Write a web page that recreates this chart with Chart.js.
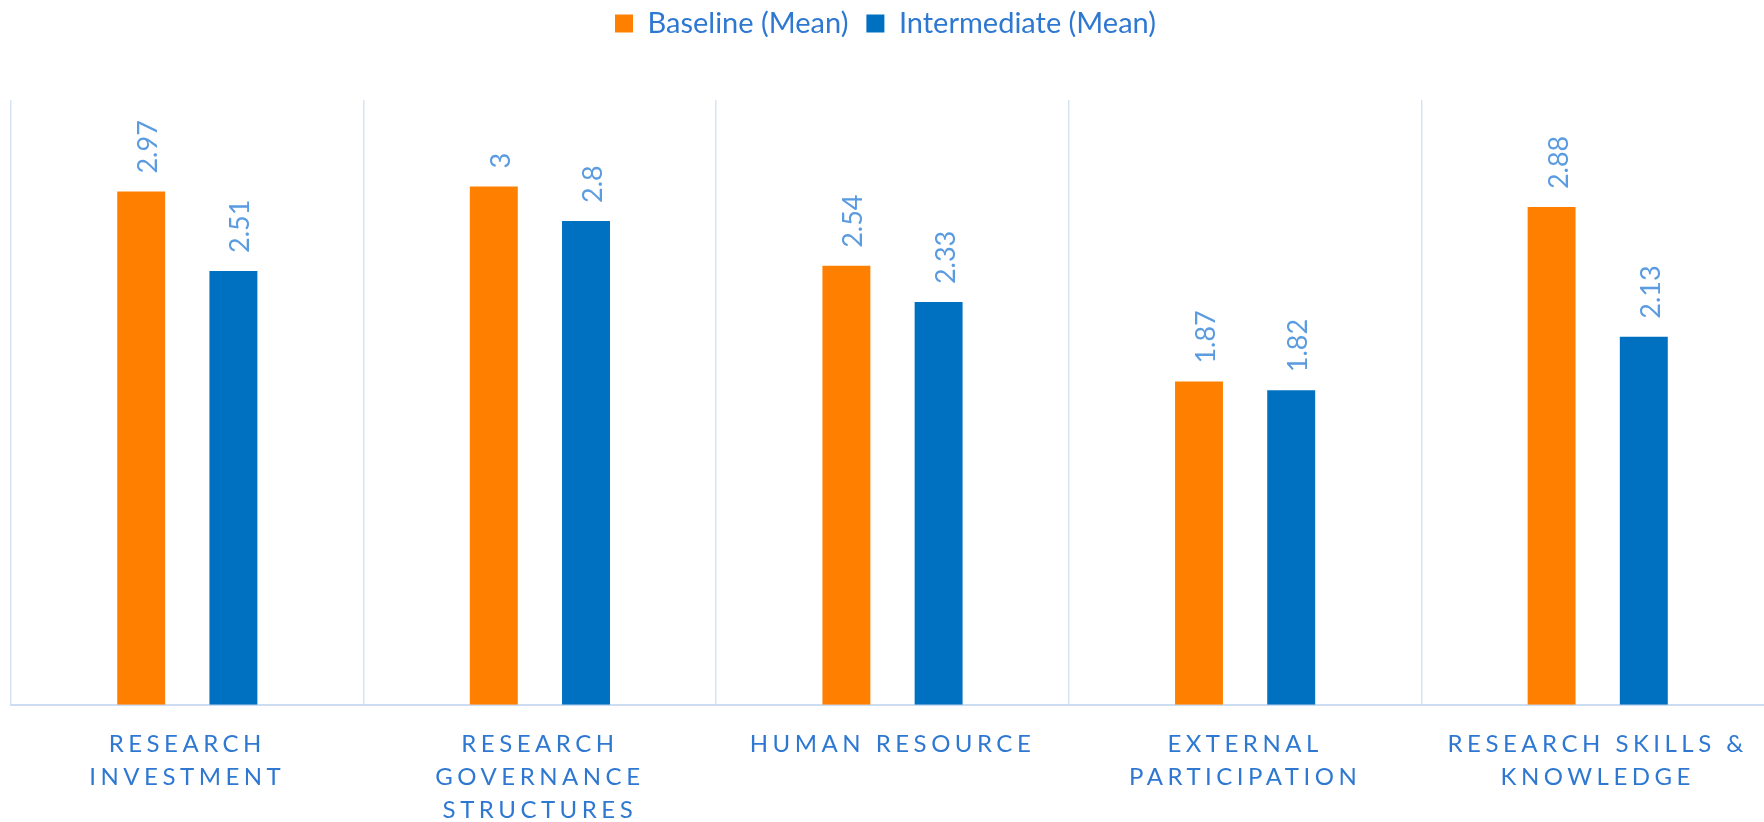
<!DOCTYPE html>
<html>
<head>
<meta charset="utf-8">
<script src="https://cdn.jsdelivr.net/npm/chart.js@4"></script>
<style>
  body { margin: 0; background: #fff; overflow: hidden; }
  #wrap { width: 1774px; height: 850px; position: relative; }
</style>
</head>
<body>
<div id="wrap"><canvas id="grafica"></canvas></div>
<script>
const categorias = [
  ['RESEARCH', 'INVESTMENT'],
  ['RESEARCH', 'GOVERNANCE', 'STRUCTURES'],
  'HUMAN RESOURCE',
  ['EXTERNAL', 'PARTICIPATION'],
  ['RESEARCH SKILLS &', 'KNOWLEDGE']
];
const baseline = [2.97, 3, 2.54, 1.87, 2.88];
const intermedio = [2.51, 2.8, 2.33, 1.82, 2.13];

const textBlue = '#2F78D2';

// etiquetas rotadas encima de cada barra
const valueLabels = {
  id: 'valueLabels',
  afterDatasetsDraw(chart) {
    const ctx = chart.ctx;
    chart.data.datasets.forEach((ds, i) => {
      chart.getDatasetMeta(i).data.forEach((bar, j) => {
        ctx.save();
        ctx.translate(bar.x + 16, bar.y - 18);
        ctx.rotate(-Math.PI / 2);
        ctx.font = '27px Lato';
        ctx.fillStyle = '#5B9BE0';
        ctx.textAlign = 'left';
        ctx.textBaseline = 'alphabetic';
        ctx.fillText(String(ds.data[j]), 0, 0);
        ctx.restore();
      });
    });
  }
};

// leyenda un poco mas arriba, mas espacio debajo, letterSpacing en el eje x
const layoutTweaks = {
  id: 'layoutTweaks',
  beforeInit(chart) {
    const leg = chart.legend;
    const fit = leg.fit;
    leg.fit = function() {
      fit.call(this);
      this.height += 43;
    };
    const draw = leg.draw;
    leg.draw = function() {
      this.ctx.save();
      this.ctx.translate(-7, -9);
      draw.call(this);
      this.ctx.restore();
    };
  },
  afterUpdate(chart) {
    const s = chart.scales.x;
    if (!s._spaced) {
      const f = s.drawLabels.bind(s);
      s.drawLabels = function(area) {
        const c = this.ctx;
        c.save();
        c.letterSpacing = '4.5px';
        f(area);
        c.restore();
      };
      s._spaced = true;
    }
  }
};

Chart.defaults.font.family = 'Lato';

const data = {
  labels: categorias,
  datasets: [{
    label: 'Baseline (Mean)',
    data: baseline,
    backgroundColor: '#FF8000'
  }, {
    label: 'Intermediate (Mean)',
    data: intermedio,
    backgroundColor: '#0070C0'
  }]
};

const config = {
  type: 'bar',
  data: data,
  options: {
    responsive: true,
    maintainAspectRatio: false,
    animation: false,
    categoryPercentage: 0.523,
    barPercentage: 0.52,
    layout: { padding: { left: 11, right: 0, top: 0, bottom: 0 } },
    plugins: {
      legend: {
        position: 'top',
        labels: {
          boxWidth: 18,
          boxHeight: 18,
          padding: 18,
          color: textBlue,
          font: { size: 29 }
        }
      },
      tooltip: { enabled: false }
    },
    scales: {
      x: {
        grid: { color: '#D5E3F4', lineWidth: 1.5, drawTicks: false },
        border: { color: '#CCDDF2', width: 2 },
        ticks: {
          color: textBlue,
          font: { size: 24, lineHeight: 1.38 },
          padding: 23,
          maxRotation: 0,
          autoSkip: false
        }
      },
      y: {
        display: false,
        min: 0,
        max: 3.5
      }
    }
  },
  plugins: [valueLabels, layoutTweaks]
};

new Chart(document.querySelector('#grafica'), config);
</script>
</body>
</html>
